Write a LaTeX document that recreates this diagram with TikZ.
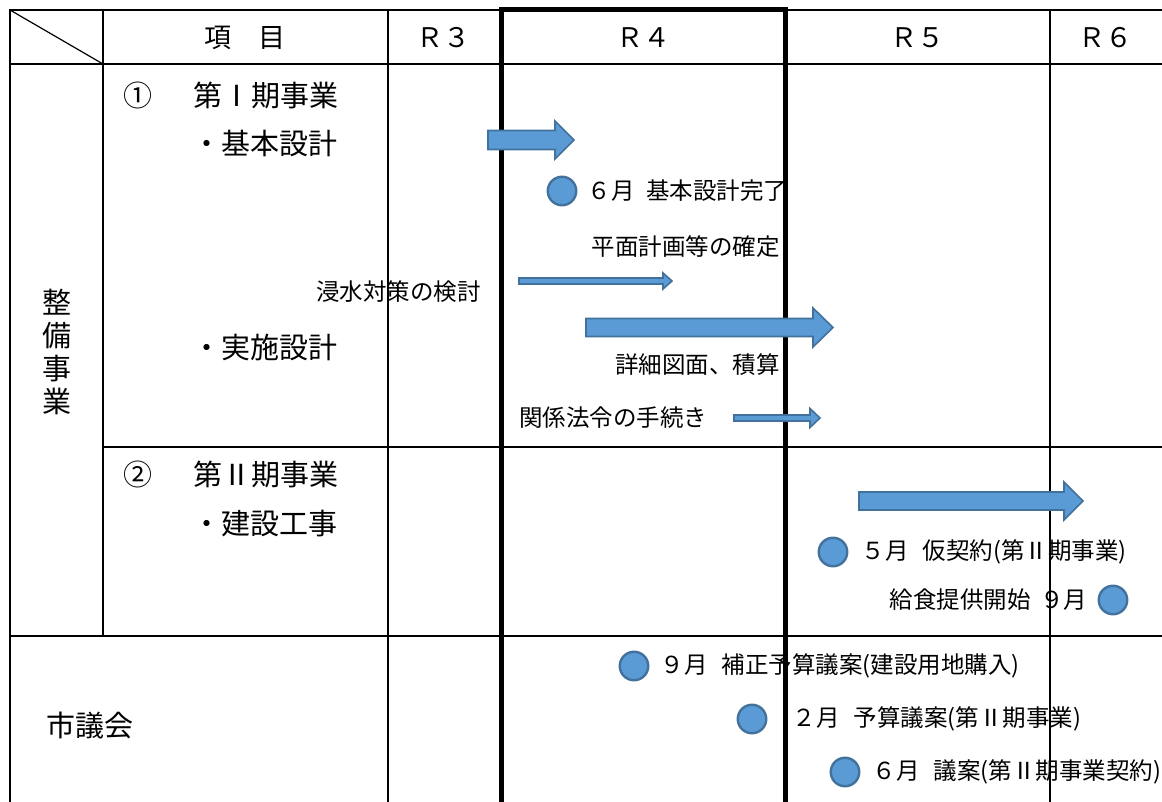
\documentclass[tikz,border=0pt]{standalone}
\usepackage{fontspec}
\setmainfont{Noto Sans CJK JP}
\usepackage{xcolor}
\usepackage{tikz}
\usetikzlibrary{positioning}
\definecolor{PlanBlue}{HTML}{5B9BD5}
\definecolor{PlanEdge}{HTML}{41719C}

\begin{document}
\begin{tikzpicture}[
  x=1pt, y=-1pt,
  rule/.style={line width=2.8pt},
  heavy/.style={line width=5pt, line join=miter},
  item/.style={font=\fontsize{29}{33}\selectfont, inner sep=0pt},
  colhead/.style={font=\fontsize{27}{30}\selectfont, inner sep=0pt},
  notetext/.style={font=\fontsize{23.5}{26}\selectfont, inner sep=0pt},
  milestone/.style={circle, draw=PlanEdge, fill=PlanBlue, line width=2.4pt,
    minimum size=28.5pt, inner sep=0pt},
  bar/.style={draw=PlanEdge, fill=PlanBlue, line width=1.6pt, line join=miter}
]
  \useasboundingbox (0,0) rectangle (1162,802);

  % table
  \draw[rule] (10,802) -- (10,10) -- (501,10);
  \draw[rule] (785,10) -- (1162,10);
  \draw[rule] (10,64) -- (1162,64);
  \draw[rule] (103,447) -- (1162,447);
  \draw[rule] (10,636) -- (1162,636);
  \draw[rule] (103,10) -- (103,636);
  \draw[rule] (388,10) -- (388,802);
  \draw[rule] (1050,10) -- (1050,802);
  \draw[heavy] (501,802) -- (501,10) -- (785,10) -- (785,802);
  \draw[line width=1.2pt] (10,10) -- (103,64);

  % header
  \node[colhead] (hitem) at (245,38) {項　目};
  \node[colhead] (hr3) at (443,38) {Ｒ３};
  \node[colhead] (hr4) at (643,38) {Ｒ４};
  \node[colhead] (hr5) at (917,38) {Ｒ５};
  \node[colhead] (hr6) at (1105,38) {Ｒ６};

  % row labels
  \node[item, align=center] (seibi) at (57,352) {整\\備\\事\\業};
  \node[item] (no1) at (138,95) {①};
  \node[item, anchor=west] (phase1) at (193,95) {第Ⅰ期事業};
  \node[item, anchor=west] (kihon) at (192,143) {・基本設計};
  \node[item, anchor=west] (jisshi) at (192,347) {・実施設計};
  \node[item] (no2) at (138,474) {②};
  \node[item, anchor=west] (phase2) at (193,474) {第Ⅱ期事業};
  \node[item, anchor=west] (kensetsu) at (192,524) {・建設工事};
  \node[item, anchor=west] (gikai) at (46,726) {市議会};

  % work bars
  \draw[bar] (488,130.5) -- (555,130.5) -- (555,121) -- (574,140) -- (555,159)
    -- (555,149.5) -- (488,149.5) -- cycle;
  \draw[bar] (519,278) -- (663,278) -- (663,273) -- (672,281) -- (663,289)
    -- (663,284) -- (519,284) -- cycle;
  \draw[bar] (586,318.5) -- (813,318.5) -- (813,308) -- (833,327.5) -- (813,347)
    -- (813,336.5) -- (586,336.5) -- cycle;
  \draw[bar] (734,415) -- (810,415) -- (810,408.5) -- (820,418) -- (810,427.5)
    -- (810,421) -- (734,421) -- cycle;
  \draw[bar] (859,492) -- (1064,492) -- (1064,482) -- (1083,501) -- (1064,520)
    -- (1064,510) -- (859,510) -- cycle;

  % milestones
  \node[milestone] (kanryo) at (562,191) {};
  \node[notetext, right=10pt of kanryo] (kanryot) {６月\hspace{0.5em}基本設計完了};
  \node[milestone] (karikei) at (833,552) {};
  \node[notetext, right=13pt of karikei] (karikeit) {５月\hspace{0.6em}仮契約(第Ⅱ期事業)};
  \node[milestone] (kyushoku) at (1113,600) {};
  \node[notetext, left=10pt of kyushoku] (kyushokut) {給食提供開始\hspace{0.4em}９月};
  \node[milestone] (hosei) at (634,666) {};
  \node[notetext, right=11pt of hosei] (hoseit) {９月\hspace{0.6em}補正予算議案(建設用地購入)};
  \node[milestone] (yosan) at (752,719) {};
  \node[notetext, right=25pt of yosan] (yosant) {２月\hspace{0.6em}予算議案(第Ⅱ期事業)};
  \node[milestone] (keiyaku) at (845,772) {};
  \node[notetext, right=12pt of keiyaku] (keiyakut) {６月\hspace{0.6em}議案(第Ⅱ期事業契約)};

  % bar notes
  \node[notetext, anchor=east] (heimen) at (780,247) {平面計画等の確定};
  \node[notetext, anchor=east] (shinsui) at (481,292) {浸水対策の検討};
  \node[notetext, anchor=east] (shosai) at (780,365) {詳細図面、積算};
  \node[notetext, anchor=west] (horei) at (519,418) {関係法令の手続き};
\end{tikzpicture}
\end{document}
